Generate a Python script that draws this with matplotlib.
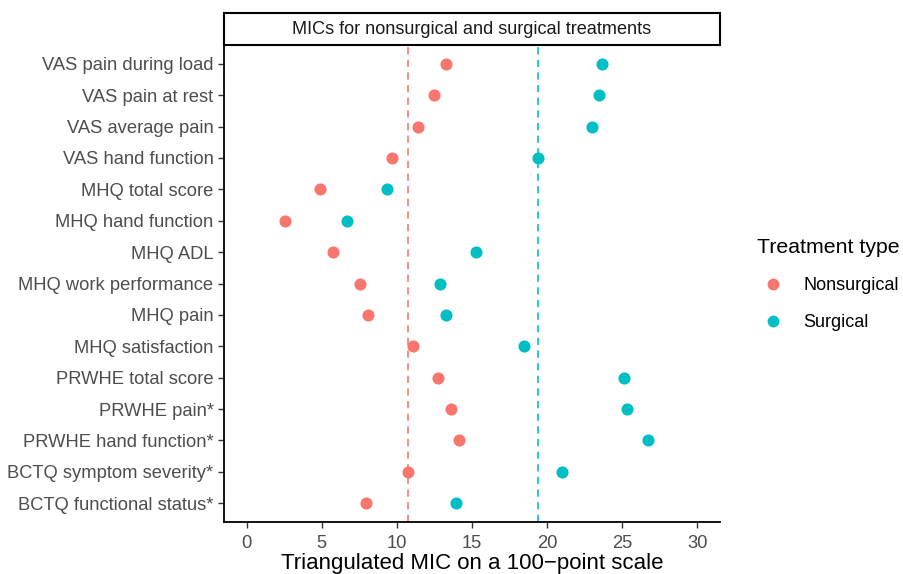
import matplotlib
matplotlib.use("Agg")
import matplotlib.pyplot as plt
from matplotlib.lines import Line2D
from matplotlib.patches import Rectangle

plt.rcParams['font.family'] = ['Liberation Sans', 'DejaVu Sans']

categories = [
    "VAS pain during load", "VAS pain at rest", "VAS average pain", "VAS hand function",
    "MHQ total score", "MHQ hand function", "MHQ ADL", "MHQ work performance",
    "MHQ pain", "MHQ satisfaction", "PRWHE total score", "PRWHE pain*",
    "PRWHE hand function*", "BCTQ symptom severity*", "BCTQ functional status*",
]
nonsurgical = [13.24, 12.44, 11.38, 9.70, 4.86, 2.59, 5.77, 7.58, 8.06, 11.07,
               12.77, 13.61, 14.16, 10.72, 7.98]
surgical = [23.65, 23.43, 23.01, 19.38, 9.36, 6.67, 15.27, 12.86, 13.26, 18.45,
            25.13, 25.28, 26.70, 20.97, 13.95]
mean_nonsurgical = 10.72
mean_surgical = 19.38
xticks = [0, 5, 10, 15, 20, 25, 30]

c_non = "#F8766D"
c_sur = "#00BFC4"

fig = plt.figure(figsize=(9.04, 5.74), dpi=100)
ax = fig.add_axes([224/904, 1-522/574, (720-224)/904, (522-45)/574])

n = len(categories)
ypos = list(range(n))[::-1]

ax.axvline(mean_nonsurgical, color=c_non, linestyle=(0, (4, 3)), linewidth=1.3, zorder=1, alpha=0.9)
ax.axvline(mean_surgical, color=c_sur, linestyle=(0, (4, 3)), linewidth=1.3, zorder=1, alpha=0.9)
ax.scatter(nonsurgical, ypos, s=76, color=c_non, zorder=3, linewidths=0)
ax.scatter(surgical, ypos, s=76, color=c_sur, zorder=3, linewidths=0)

ax.set_xlim(-1.5, 31.5)
ax.set_ylim(-0.6, n - 1 + 0.6)
ax.set_xticks(xticks)
ax.set_xticklabels([str(t) for t in xticks])
ax.set_yticks(ypos)
ax.set_yticklabels(categories)
ax.tick_params(axis='both', labelsize=13.2, labelcolor="#4D4D4D", color="#333333",
               length=4, width=1)
ax.tick_params(axis='x', pad=5)
ax.spines['top'].set_visible(False)
ax.spines['right'].set_visible(False)
ax.spines['left'].set_linewidth(1.3)
ax.spines['bottom'].set_linewidth(1.3)
ax.set_xlabel("Triangulated MIC on a 100\u2212point scale", fontsize=16, color="black", labelpad=1)

# strip
strip = Rectangle((224/904, 1-45/574), (720-224)/904, 32/574, transform=fig.transFigure,
                  facecolor="white", edgecolor="black", linewidth=1.5)
fig.patches.append(strip)
fig.text((224+720)/2/904, 1-29/574, "MICs for nonsurgical and surgical treatments",
         ha="center", va="center", fontsize=13.1, color="#1A1A1A")

handles = [Line2D([], [], marker='o', linestyle='', markersize=8.5, color=c_non, markeredgewidth=0),
           Line2D([], [], marker='o', linestyle='', markersize=8.5, color=c_sur, markeredgewidth=0)]
leg = fig.legend(handles, ["Nonsurgical", "Surgical"], title="Treatment type",
                 loc="upper left", bbox_to_anchor=(743/904, 1-224/574), frameon=False,
                 fontsize=13, title_fontsize=15.3, labelspacing=1.1,
                 handletextpad=0.8, handlelength=1.75, borderpad=0.3)
leg._legend_box.align = "left"

fig.savefig("out.png", dpi=100)
